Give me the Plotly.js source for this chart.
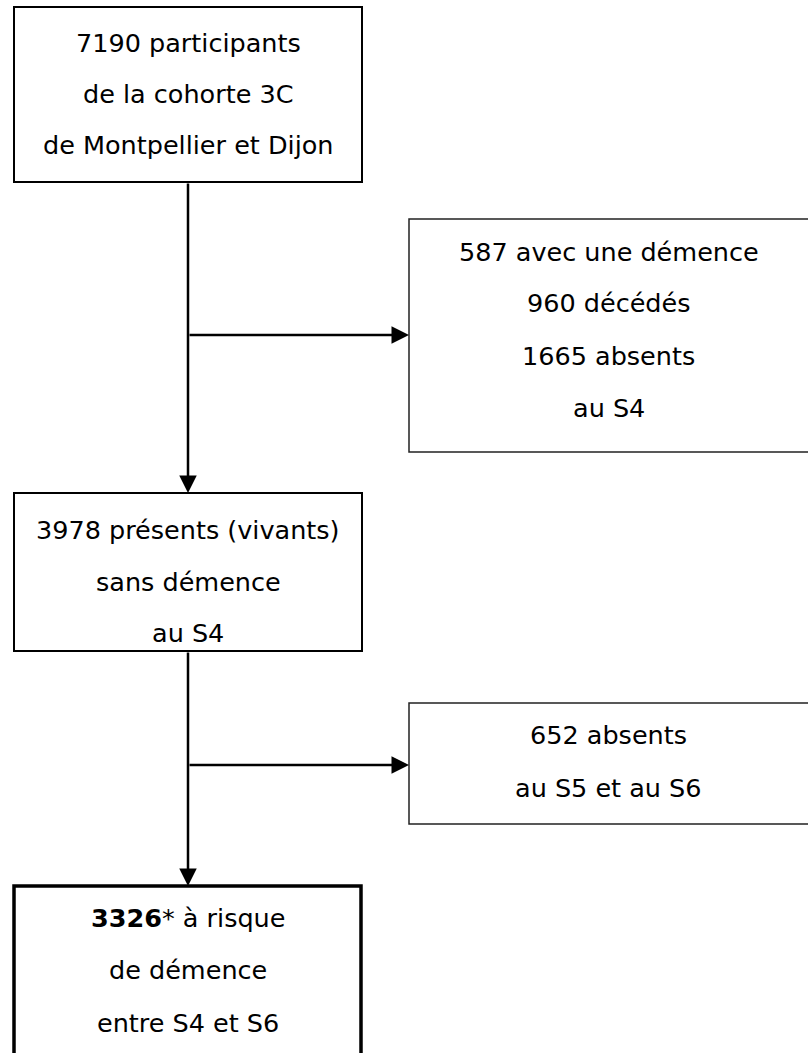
<!DOCTYPE html>
<html>
<head>
<meta charset="utf-8">
<script src="https://cdn.plot.ly/plotly-3.0.1.min.js"></script>
<style>html,body{margin:0;padding:0;background:#fff;}#chart{width:808px;height:1053px;}</style>
</head>
<body>
<div id="chart"></div>
<script>
// Flowchart content
const boxStart = ["7190 participants", "de la cohorte 3C", "de Montpellier et Dijon"];
const boxExcl1 = ["587 avec une démence", "960 décédés", "1665 absents", "au S4"];
const boxS4 = ["3978 présents (vivants)", "sans démence", "au S4"];
const boxExcl2 = ["652 absents", "au S5 et au S6"];
const boxFinal = ["<b>3326</b>* à risque", "de démence", "entre S4 et S6"];

// Layout geometry (pixels, page coordinates)
const geom = [
  {lines: boxStart, x0: 14, x1: 362, y0: 7, y1: 182, lw: 2, col: "#000", ys: [43, 94, 145]},
  {lines: boxExcl1, x0: 409, x1: 812, y0: 219, y1: 452, lw: 1.5, col: "#222", ys: [252, 303, 356, 408]},
  {lines: boxS4, x0: 14, x1: 362, y0: 493, y1: 651, lw: 2, col: "#000", ys: [530, 582, 633]},
  {lines: boxExcl2, x0: 409, x1: 812, y0: 703, y1: 824, lw: 1.5, col: "#222", ys: [735, 788]},
  {lines: boxFinal, x0: 14, x1: 361, y0: 886, y1: 1070, lw: 3.5, col: "#000", ys: [918, 970, 1023]}
];

const FONT = {family: "DejaVu Sans, sans-serif", size: 25.5, color: "#000"};
const shapes = [];
const annotations = [];

geom.forEach(b => {
  shapes.push({type: "rect", xref: "x", yref: "y", x0: b.x0, x1: b.x1, y0: b.y0, y1: b.y1,
    line: {color: b.col, width: b.lw}, fillcolor: "rgba(0,0,0,0)"});
  const cx = (b.x0 + Math.min(b.x1, 808)) / 2;
  b.lines.forEach((t, i) => {
    annotations.push({xref: "x", yref: "y", x: cx, y: b.ys[i], text: t, showarrow: false,
      xanchor: "center", yanchor: "middle", font: FONT});
  });
});

const stemX = 188;
function arrow(x0, y0, x1, y1) {
  annotations.push({xref: "x", yref: "y", axref: "x", ayref: "y", x: x1, y: y1, ax: x0, ay: y0,
    text: "", showarrow: true, arrowhead: 2, arrowsize: 1.4, arrowwidth: 2.5, arrowcolor: "#000",
    standoff: 0, startstandoff: 0});
}
arrow(stemX, 182, stemX, 493);
arrow(stemX, 335, 409, 335);
arrow(stemX, 651, stemX, 886);
arrow(stemX, 765, 409, 765);

const layout = {
  width: 808, height: 1053,
  margin: {l: 0, r: 0, t: 0, b: 0},
  paper_bgcolor: "#fff", plot_bgcolor: "#fff",
  xaxis: {range: [0, 808], visible: false, fixedrange: true},
  yaxis: {range: [1053, 0], visible: false, fixedrange: true},
  showlegend: false,
  shapes: shapes,
  annotations: annotations
};

Plotly.newPlot("chart", [], layout, {staticPlot: true, displayModeBar: false});
</script>
</body>
</html>
